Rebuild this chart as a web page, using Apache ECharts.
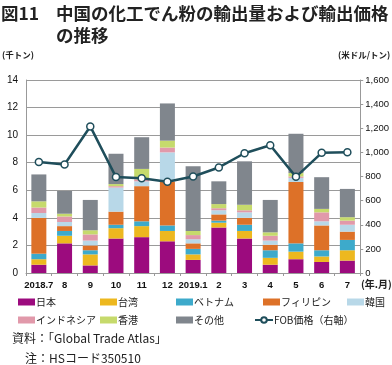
<!DOCTYPE html>
<html><head><meta charset="utf-8">
<script src="https://cdn.jsdelivr.net/npm/echarts@6/dist/echarts.min.js"></script>
<style>html,body{margin:0;padding:0;background:#fff}#c{width:392px;height:365px}</style>
</head><body><div id="c"></div>
<script>
var categories = ['2018.7','8','9','10','11','12','2019.1','2','3','4','5','6','7'];
var japan      = [0.6, 2.15, 0.55, 2.5, 2.6, 2.3, 0.95, 3.3, 2.5, 0.6, 1.0, 0.8, 0.9];
var taiwan     = [0.4, 0.55, 0.8, 0.75, 0.8, 0.75, 0.4, 0.35, 0.55, 0.5, 0.55, 0.4, 0.75];
var vietnam    = [0.4, 0.35, 0.3, 0.25, 0.35, 0.4, 0.4, 0.15, 0.45, 0.55, 0.6, 0.45, 0.75];
var philippines= [2.6, 0.35, 0.35, 0.95, 2.55, 3.2, 0.4, 0.45, 0.5, 0.4, 4.45, 1.8, 0.6];
var korea      = [0.35, 0.3, 0.35, 1.75, 0.35, 2.1, 0.3, 0.3, 0.4, 0.3, 0.3, 0.3, 0.5];
var indonesia  = [0.4, 0.4, 0.45, 0.1, 0.15, 0.35, 0.3, 0.15, 0.15, 0.35, 0.1, 0.65, 0.3];
var hongkong   = [0.45, 0.2, 0.3, 0.15, 0.75, 0.5, 0.3, 0.3, 0.4, 0.25, 0.25, 0.25, 0.25];
var others     = [1.95, 1.65, 2.2, 2.2, 2.3, 2.7, 4.7, 1.65, 3.15, 2.35, 2.85, 2.3, 2.05];
var fobPrice   = [920, 900, 1215, 795, 785, 757, 800, 875, 993, 1059, 797, 996, 1001];
var leftTicks = [0, 14, 2];      // min, max, interval
var rightTicks = [0, 1600, 200]; // min, max, interval

var barNames = ['日本','台湾','ベトナム','フィリピン','韓国','インドネシア','香港','その他'];
var barData = [japan, taiwan, vietnam, philippines, korea, indonesia, hongkong, others];
var barColors = ['#9C0B7E','#EDB81F','#3DAACB','#DD7128','#B8D8E8','#E199AA','#C6DA6C','#80868D'];
var lineName = 'FOB価格（右軸）';
var lineColor = '#1F4E5B';

var series = barNames.map(function(n, i){
  return {name:n, type:'bar', stack:'q', data:barData[i], barWidth:15,
    itemStyle:{color:barColors[i]}, emphasis:{disabled:true}};
});
series.push({name:lineName, type:'line', yAxisIndex:1, data:fobPrice,
  symbol:'circle', symbolSize:7, z:10,
  lineStyle:{color:lineColor, width:2.5},
  itemStyle:{color:'#fff', borderColor:lineColor, borderWidth:1.5}});

var font = 'Noto Sans CJK JP';
var legendPos = [
  [18,297],[100,297],[176,297],[263,297],[347,297],
  [18,315],[100,315],[176,315],[254,315]
];
var legendOrder = barNames.concat([lineName]);
var legends = legendOrder.map(function(n, i){
  var isLine = n === lineName;
  var l = {data:[n], left:legendPos[i][0], top:legendPos[i][1], padding:0,
    itemWidth: isLine ? 18 : 17, itemHeight: 7, itemGap:0,
    textStyle:{fontSize:10, color:'#222', fontFamily:font, padding:[0,0,0,-4]},
    selectedMode:false};
  if (!isLine) l.icon = 'rect';
  return l;
});

var option = {
  animation:false,
  textStyle:{fontFamily:font},
  title:[
    {text:'図11', left:1, top:2, padding:0, textStyle:{fontSize:17.5, fontWeight:'bold', color:'#222', fontFamily:font, lineHeight:22}},
    {text:'中国の化工でん粉の輸出量および輸出価格\nの推移', left:56, top:2, padding:0,
      textStyle:{fontSize:17.5, fontWeight:'bold', color:'#222', lineHeight:22, fontFamily:font}}
  ],
  legend:legends,
  grid:{left:26, right:30, top:80, bottom:92},
  xAxis:{type:'category', data:categories,
    axisLine:{lineStyle:{color:'#999'}},
    axisTick:{show:true, length:3, lineStyle:{color:'#999'}},
    axisLabel:{fontSize:9.5, color:'#111', margin:7, fontFamily:'Liberation Sans', fontWeight:'bold', interval:0}},
  yAxis:[
    {type:'value', min:leftTicks[0], max:leftTicks[1], interval:leftTicks[2],
      axisLine:{show:true, lineStyle:{color:'#999'}}, axisTick:{show:false},
      splitLine:{lineStyle:{color:'#9a9a9a', width:1}},
      axisLabel:{fontSize:10, color:'#111', margin:8, fontFamily:'Liberation Sans'}},
    {type:'value', min:rightTicks[0], max:rightTicks[1], interval:rightTicks[2],
      axisLine:{show:true, lineStyle:{color:'#999'}}, axisTick:{show:true, length:3, lineStyle:{color:'#999'}},
      splitLine:{show:false},
      axisLabel:{fontSize:9.5, color:'#111', margin:5, fontFamily:'Liberation Sans',
        formatter:function(v){return v.toLocaleString('en-US');}}}
  ],
  graphic:[
    {type:'text', left:2, top:51, style:{text:'(千トン)', fill:'#222', font:'bold 8.5px "Noto Sans CJK JP"'}},
    {type:'text', left:338, top:51, style:{text:'(米ドル/トン)', fill:'#222', font:'bold 8.5px "Noto Sans CJK JP"'}},
    {type:'text', left:361, top:279, style:{text:'(年.月)', fill:'#222', font:'bold 10px "Noto Sans CJK JP"'}},
    {type:'text', left:12, top:332, style:{text:'資料：「Global Trade Atlas」', fill:'#222', font:'12px "Noto Sans CJK JP"'}},
    {type:'text', left:25, top:352, style:{text:'注：HSコード350510', fill:'#222', font:'12px "Noto Sans CJK JP"'}}
  ],
  series:series
};
var chart = echarts.init(document.getElementById('c'), null, {renderer:'canvas'});
chart.setOption(option);
</script></body></html>
